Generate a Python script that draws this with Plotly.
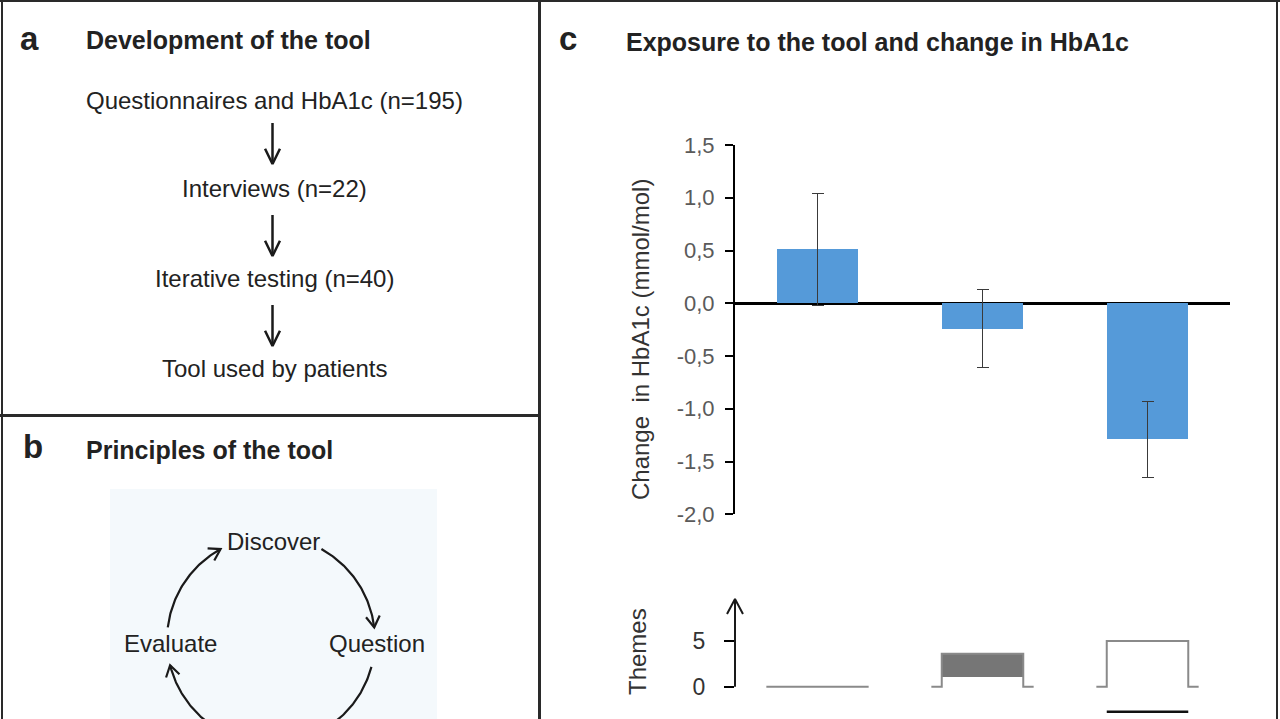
import math
import plotly.graph_objects as go

W, H = 1280, 719

# ---------------- data ----------------
groups = [0, 1, 2]
hba1c_change = [0.51, -0.24, -1.29]
hba1c_err = [0.53, 0.37, 0.36]
y_tickvals = [-2.0, -1.5, -1.0, -0.5, 0.0, 0.5, 1.0, 1.5]
y_ticktext = ["-2,0", "-1,5", "-1,0", "-0,5", "0,0", "0,5", "1,0", "1,5"]
themes_values = [0, 3.6, 5]
themes_fill_base = [None, 1.0, None]
themes_tickvals = [0, 5]
themes_ticktext = ["0", "5"]
flow_steps = ["Questionnaires and HbA1c (n=195)", "Interviews (n=22)",
              "Iterative testing (n=40)", "Tool used by patients"]
cycle_labels = ["Discover", "Question", "Evaluate"]

FONT = "Liberation Sans, Arial, sans-serif"
TXT = "#222222"


def py(p):
    return 1 - p / H


fig = go.Figure()

# ---------------- panel c: bars ----------------
fig.add_trace(go.Bar(
    x=groups, y=hba1c_change, width=0.49,
    marker=dict(color="#559ad9", line=dict(width=0)),
    error_y=dict(type="data", array=hba1c_err, visible=True,
                 color="#3a3a3a", thickness=1.5, width=6),
    xaxis="x", yaxis="y", showlegend=False, hoverinfo="skip"))

# ---------------- panel c: themes ----------------
w1, w2 = 0.247, 0.31
for g, v, fb in zip(groups, themes_values, themes_fill_base):
    if fb is not None:
        fig.add_trace(go.Bar(x=[g], y=[v - fb], base=[fb], width=2 * w1,
                             marker=dict(color="#767676", line=dict(width=0)),
                             xaxis="x2", yaxis="y2", showlegend=False,
                             hoverinfo="skip"))
    if v == 0:
        xs = [g - w2, g + w2]
        ys = [0, 0]
    else:
        xs = [g - w2, g - w1, g - w1, g + w1, g + w1, g + w2]
        ys = [0, 0, v, v, 0, 0]
    fig.add_trace(go.Scatter(x=xs, y=ys, mode="lines",
                             line=dict(color="#8a8a8a", width=2),
                             xaxis="x2", yaxis="y2", showlegend=False,
                             hoverinfo="skip", cliponaxis=False))

# ---------------- overlay drawing helpers (pixel space) ----------------
def add_line(xs, ys, width=2.5, color="#1a1a1a"):
    fig.add_trace(go.Scatter(x=xs, y=ys, mode="lines",
                             line=dict(color=color, width=width),
                             xaxis="x3", yaxis="y3", showlegend=False,
                             hoverinfo="skip"))


def add_head(tx, ty, dx, dy, length=15, ang=27, width=2.5):
    n = math.hypot(dx, dy)
    dx, dy = dx / n, dy / n
    bx, by = -dx, -dy
    pts = []
    for s in (1, -1):
        a = math.radians(ang * s)
        rx = bx * math.cos(a) - by * math.sin(a)
        ry = bx * math.sin(a) + by * math.cos(a)
        pts.append((tx + rx * length, ty + ry * length))
    add_line([pts[0][0], tx, pts[1][0]], [pts[0][1], ty, pts[1][1]], width=width)


# panel a arrows
for (y0, y1) in [(123, 164), (215, 256), (305, 346)]:
    add_line([272.5, 272.5], [y0, y1])
    add_head(272.5, y1, 0, 1, length=17, ang=26)

# panel b cycle arcs
cx, cy, r = 271, 640, 104


def arc(a0, a1, head=True):
    n = 60
    th = [math.radians(a0 + (a1 - a0) * i / n) for i in range(n + 1)]
    xs = [cx + r * math.cos(t) for t in th]
    ys = [cy - r * math.sin(t) for t in th]
    add_line(xs, ys, width=2.2)
    if head:
        t = th[-1]
        add_head(xs[-1], ys[-1], math.sin(t), math.cos(t), length=13, ang=32, width=2.2)


arc(61, 7)
arc(-15, -62, head=False)
arc(-118, -166)
arc(173, 119)

# themes axis arrow
add_line([735, 735], [686.7, 599], width=2)
add_head(735, 599, 0, -1, length=17, ang=28, width=2)

# ---------------- annotations ----------------
ann = []


def text(x, y, s, size=24, bold=False, xanchor="center", color=TXT, angle=0):
    ann.append(dict(x=x, y=y, xref="x3", yref="y3", text=f"<b>{s}</b>" if bold else s,
                    showarrow=False, xanchor=xanchor, yanchor="middle",
                    textangle=angle,
                    font=dict(family=FONT, size=size, color=color)))


text(29, 38, "a", size=33, bold=True)
text(84, 40, "Development of the tool", size=25, bold=True, xanchor="left")
for s, y in zip(flow_steps, [100, 188, 278, 368]):
    text(274, y, s)

text(33, 446, "b", size=33, bold=True)
text(84, 450, "Principles of the tool", size=25, bold=True, xanchor="left")
for s, (x, y) in zip(cycle_labels, [(273, 541), (377, 643), (170, 643)]):
    text(x, y, s)

text(568, 38, "c", size=33, bold=True)
text(624, 42, "Exposure to the tool and change in HbA1c", size=25, bold=True, xanchor="left")
text(640, 340, "Change\u00a0 in HbA1c (mmol/mol)", size=24, color="#333333", angle=-90)
text(637, 652, "Themes", size=24, color="#333333", angle=-90)

# ---------------- shapes ----------------
shapes = [
    dict(type="rect", xref="x3", yref="y3", x0=110, x1=437, y0=489, y1=730,
         fillcolor="#f4f9fc", line=dict(width=0), layer="below"),
    dict(type="line", xref="x2", yref="y3", x0=2 - w1, x1=2 + w1, y0=711.7, y1=711.7,
         line=dict(color="#111111", width=2.5)),
]
bc = "#2a2a2a"
for x0, y0, x1, y1, lw in [(0, 1, W, 1, 2), (2, 0, 2, H, 2), (W - 3, 0, W - 3, H, 2),
                           (539.5, 0, 539.5, H, 3), (0, 415.5, 539.5, 415.5, 3)]:
    shapes.append(dict(type="line", xref="x3", yref="y3", x0=x0, y0=y0, x1=x1, y1=y1,
                       line=dict(color=bc, width=lw)))

# ---------------- layout ----------------
fig.update_layout(
    width=W, height=H, margin=dict(l=0, r=0, t=0, b=0, pad=0),
    paper_bgcolor="white", plot_bgcolor="rgba(0,0,0,0)",
    font=dict(family=FONT, color=TXT),
    xaxis=dict(domain=[735 / W, 1230 / W], range=[-0.5, 2.5], visible=False,
               anchor="y", fixedrange=True, automargin=False),
    yaxis=dict(domain=[py(514.3), py(145)], range=[-2, 1.5], anchor="x",
               tickvals=y_tickvals, ticktext=y_ticktext,
               showline=True, linecolor="black", linewidth=2,
               ticks="outside", ticklen=8, tickwidth=2, tickcolor="black",
               ticklabelstandoff=6, automargin=False,
               zeroline=True, zerolinecolor="black", zerolinewidth=2.5,
               showgrid=False, tickfont=dict(size=22, color="#5a5a5a"),
               fixedrange=True),
    xaxis2=dict(domain=[735 / W, 1230 / W], range=[-0.5, 2.5], visible=False,
                anchor="y2", fixedrange=True, automargin=False),
    yaxis2=dict(domain=[py(695.8), py(595.3)], range=[-1, 10], anchor="x2",
                tickvals=themes_tickvals, ticktext=themes_ticktext,
                ticks="outside", ticklen=10, tickwidth=2, tickcolor="black",
                ticklabelstandoff=14, automargin=False,
                showline=False, zeroline=False, showgrid=False,
                tickfont=dict(size=23, color="#333333"), fixedrange=True),
    xaxis3=dict(domain=[0, 1], range=[0, W], visible=False, anchor="y3",
                fixedrange=True, automargin=False),
    yaxis3=dict(domain=[0, 1], range=[H, 0], visible=False, anchor="x3",
                fixedrange=True, automargin=False),
    annotations=ann, shapes=shapes, bargap=0, showlegend=False,
)

fig.write_html("out.html", config={"displayModeBar": False},
               post_script="document.body.style.margin='0';"
                           "document.body.style.overflow='hidden';")
